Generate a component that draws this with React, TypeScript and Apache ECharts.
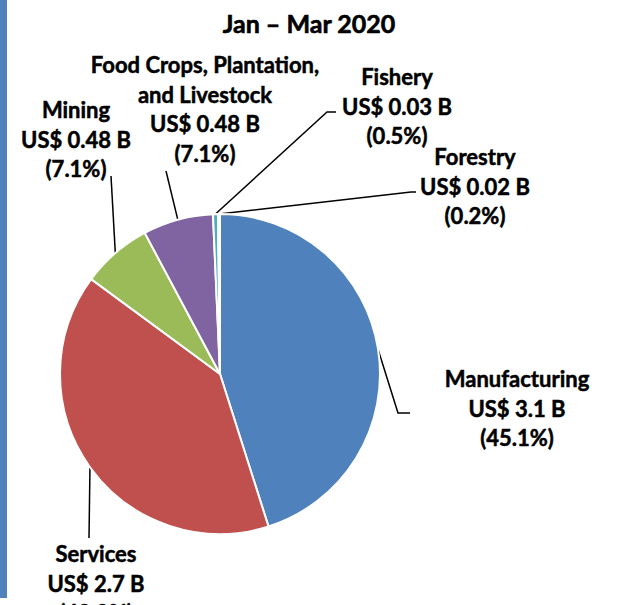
import React, { useEffect, useRef } from "react";
import * as echarts from "echarts";

const titleText = "Jan – Mar 2020";
const categories = [
  "Manufacturing",
  "Services",
  "Mining",
  "Food Crops, Plantation,\nand Livestock",
  "Fishery",
  "Forestry",
];
const amounts = ["US$ 3.1 B", "US$ 2.7 B", "US$ 0.48 B", "US$ 0.48 B", "US$ 0.03 B", "US$ 0.02 B"];
const percents = [45.1, 40.0, 7.1, 7.1, 0.5, 0.2];
const colors = ["#4F81BD", "#C0504D", "#9BBB59", "#8064A2", "#4BACC6", "#F79646"];

// label block centres and leader-line elbow/end points (layout only)
const labelPos = [
  [517, 408],
  [96, 583],
  [76, 139],
  [205, 109],
  [397, 106],
  [475, 186],
];
const lineElbow = [
  [[398, 413], [410, 413]],
  [[89, 538], [89, 538]],
  [[111, 176], [111, 176]],
  [[166, 171], [166, 171]],
  [[327, 112], [336, 112]],
  [[411, 192], [416, 192]],
];

export default function App() {
  const ref = useRef<HTMLDivElement>(null);
  useEffect(() => {
    if (!ref.current) return;
    const chart = echarts.init(ref.current, null, { renderer: "svg" });
    const font = "Lato, 'Open Sans', sans-serif";
    chart.setOption({
      animation: false,
      backgroundColor: "#ffffff",
      title: {
        text: titleText,
        left: 304,
        top: 5,
        textAlign: "center",
        textStyle: {
          fontFamily: font,
          fontWeight: "bold",
          fontSize: 25,
          color: "#000",
          textBorderColor: "#000",
          textBorderWidth: 0.6,
        },
      },
      graphic: [
        { type: "rect", left: 0, top: 0, shape: { width: 7, height: 598 }, style: { fill: "#4F81BD" }, silent: true },
      ],
      series: [
        {
          type: "pie",
          center: [220, 374],
          radius: 160,
          startAngle: 90,
          clockwise: true,
          avoidLabelOverlap: false,
          itemStyle: { borderColor: "#ffffff", borderWidth: 2 },
          label: {
            show: true,
            position: "outside",
            fontFamily: font,
            fontWeight: "bold",
            fontSize: 22,
            lineHeight: 29.5,
            color: "#000",
            textBorderColor: "#000",
            textBorderWidth: 0.5,
            align: "center",
            formatter: (p: any) =>
              `${categories[p.dataIndex]}\n${amounts[p.dataIndex]}\n(${percents[p.dataIndex].toFixed(1)}%)`,
          },
          labelLine: { show: true, smooth: false, length: 10, length2: 10, lineStyle: { color: "#000", width: 1.5 } },
          labelLayout: (params: any) => {
            const i = params.dataIndex;
            const pts = params.labelLinePoints;
            const start = pts ? pts[0] : lineElbow[i][0];
            return {
              x: labelPos[i][0],
              y: labelPos[i][1],
              align: "center",
              verticalAlign: "middle",
              labelLinePoints: [start, lineElbow[i][0], lineElbow[i][1]],
            };
          },
          data: percents.map((v, i) => ({
            name: categories[i],
            value: v,
            itemStyle: { color: colors[i] },
          })),
        },
      ],
    });
    return () => chart.dispose();
  }, []);
  return (
    <div
      ref={ref}
      style={{ position: "fixed", left: 0, top: 0, width: 625, height: 605, background: "#fff" }}
    />
  );
}
